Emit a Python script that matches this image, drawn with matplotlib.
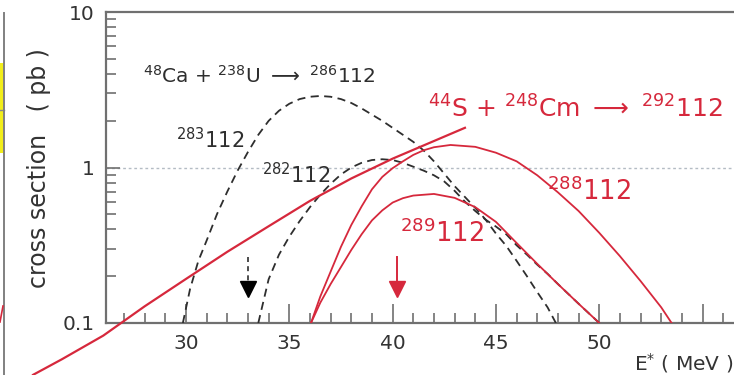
import numpy as np
import matplotlib
matplotlib.use("Agg")
import matplotlib.pyplot as plt
from matplotlib.lines import Line2D
from matplotlib.patches import Rectangle
from matplotlib.ticker import FixedLocator, NullFormatter

# ---------------- data ----------------
# excitation-energy "line" (red, solid, straight-ish)
line_E = [22.6, 24, 26, 28, 30, 32, 34, 36, 38, 40, 42, 43.5]
line_sigma = [0.0464, 0.0585, 0.083, 0.128, 0.192, 0.287, 0.419, 0.610, 0.850, 1.14, 1.48, 1.80]

# 48Ca + 238U -> 283112 (black dashed)
e283 = [29.85, 30.2, 30.6, 31, 31.5, 32, 32.5, 33, 33.5, 34, 34.5, 35, 35.5, 36, 36.5, 37,
        37.5, 38, 38.5, 39, 39.5, 40, 40.5, 41, 41.5, 42, 42.5, 43, 43.5, 44, 44.5, 45,
        45.5, 46, 46.5, 47, 47.5, 47.9]
s283 = [0.1, 0.166, 0.251, 0.339, 0.501, 0.700, 0.955, 1.259, 1.622, 1.995, 2.317, 2.570,
        2.754, 2.851, 2.884, 2.851, 2.754, 2.600, 2.399, 2.188, 1.995, 1.799, 1.622, 1.462,
        1.288, 1.096, 0.912, 0.759, 0.646, 0.550, 0.462, 0.376, 0.313, 0.251, 0.200, 0.158,
        0.126, 0.1]

# 48Ca + 238U -> 282112 (black dashed)
e282 = [33.5, 34, 34.5, 35, 35.5, 36, 36.5, 37, 37.5, 38, 38.5, 39, 39.5, 40, 40.5, 41,
        41.5, 42, 42.5, 43, 43.5, 44, 44.5, 45, 45.5, 46, 46.5, 47, 47.5, 48, 49, 50]
s282 = [0.1, 0.191, 0.275, 0.359, 0.452, 0.556, 0.668, 0.785, 0.902, 1.0, 1.072, 1.117,
        1.130, 1.117, 1.072, 1.012, 0.955, 0.891, 0.813, 0.708, 0.603, 0.525, 0.462, 0.417,
        0.372, 0.316, 0.275, 0.237, 0.207, 0.178, 0.133, 0.1]

# 44S + 248Cm -> 288112 (red solid)
e288 = [36.05, 36.5, 37, 37.5, 38, 38.5, 39, 39.5, 40, 40.5, 41, 41.5, 42, 42.8, 44, 45,
        46, 47, 48, 49, 50, 51, 52, 53, 53.5]
s288 = [0.1, 0.148, 0.214, 0.309, 0.427, 0.562, 0.724, 0.870, 0.990, 1.096, 1.205, 1.290,
        1.350, 1.396, 1.358, 1.245, 1.096, 0.891, 0.692, 0.525, 0.380, 0.269, 0.186, 0.126, 0.1]

# 44S + 248Cm -> 289112 (red solid)
e289 = [36.05, 36.5, 37, 37.5, 38, 38.5, 39, 39.5, 40, 40.5, 41, 42, 43, 44, 45, 46, 47,
        48, 49, 50]
s289 = [0.1, 0.135, 0.178, 0.229, 0.295, 0.372, 0.457, 0.530, 0.595, 0.635, 0.660, 0.676,
        0.638, 0.556, 0.447, 0.327, 0.240, 0.178, 0.133, 0.1]

# downward arrows (E position, top, tip)
arrow_E = [33.0, 40.2]
arrow_top = [0.266, 0.267]
arrow_tip = [0.151, 0.151]

xticks_major = [30, 35, 40, 45, 50, 55]
xtick_labels = ["30", "35", "40", "45", "50", ""]
yticks_major = [0.1, 1, 10]
ytick_labels = ["0.1", "1", "10"]

# ---------------- style ----------------
plt.rcParams['font.family'] = ['DejaVu Sans']
plt.rcParams['mathtext.fontset'] = 'dejavusans'

RED = '#d6283c'
DARK = '#2e2e2e'
SPINE = '#707070'
TXT = '#333333'

W, H = 734, 375
fig = plt.figure(figsize=(W / 100, H / 100), dpi=100)
x0, x1, ytop, ybot = 106, 734, 12, 323
ax = fig.add_axes([x0 / W, (H - ybot) / H, (x1 - x0) / W, (ybot - ytop) / H])

ax.set_yscale('log')
ax.set_xlim(26.13, 56.52)
ax.set_ylim(0.1, 10)

# gridline at 1
ax.axhline(1, color='#b4bcc4', lw=1.0, ls=(0, (2, 2)), zorder=1)

# curves
ax.plot(line_E, line_sigma, color=RED, lw=1.6, clip_on=False, zorder=4)
ax.plot(e283, s283, color=DARK, lw=1.3, ls=(0, (4.5, 3)), zorder=3)
ax.plot(e282, s282, color=DARK, lw=1.3, ls=(0, (4.5, 3)), zorder=3)
ax.plot(e288, s288, color=RED, lw=1.3, zorder=4)
ax.plot(e289, s289, color=RED, lw=1.3, zorder=4)

# arrows
ax.plot([arrow_E[0], arrow_E[0]], [arrow_top[0], arrow_tip[0] * 1.12], color=DARK, lw=1.2,
        ls=(0, (3, 2.5)), zorder=5)
ax.plot([arrow_E[0]], [arrow_tip[0] * 1.1], marker='v', ms=11, color='black', zorder=5)
ax.plot([arrow_E[1], arrow_E[1]], [arrow_top[1], arrow_tip[1] * 1.12], color=RED, lw=1.4,
        zorder=5)
ax.plot([arrow_E[1]], [arrow_tip[1] * 1.1], marker='v', ms=11, color=RED, zorder=5)

# ticks
ax.xaxis.set_major_locator(FixedLocator(xticks_major))
ax.set_xticklabels(xtick_labels)
ax.xaxis.set_minor_locator(FixedLocator(np.arange(27, 57, 1)))
ax.yaxis.set_major_locator(FixedLocator(yticks_major))
ax.set_yticklabels(ytick_labels)
ax.yaxis.set_minor_locator(FixedLocator([k * d for d in (0.1, 1) for k in range(2, 10)]))
ax.yaxis.set_minor_formatter(NullFormatter())
ax.tick_params(axis='both', which='major', direction='in', length=14, width=1.2,
               color=SPINE, labelcolor=TXT, labelsize=14.5, pad=8)
ax.tick_params(axis='both', which='minor', direction='in', length=7, width=1.2, color=SPINE)
ax.tick_params(axis='y', which='major', length=10)

for side in ('left', 'top', 'bottom'):
    ax.spines[side].set_color(SPINE)
    ax.spines[side].set_linewidth(1.6)
ax.spines['right'].set_visible(False)

# annotations
ax.text(27.92, 3.49, r"$^{48}$Ca + $^{238}$U $\longrightarrow$ $^{286}$112",
        fontsize=14.5, color=DARK, ha='left', va='baseline')
ax.text(41.72, 2.08, r"$^{44}$S + $^{248}$Cm $\longrightarrow$ $^{292}$112",
        fontsize=18, color=RED, ha='left', va='baseline')
ax.text(29.52, 1.33, r"$^{283}$112", fontsize=15, color=DARK, ha='left', va='baseline')
ax.text(33.68, 0.794, r"$^{282}$112", fontsize=15, color=DARK, ha='left', va='baseline')
ax.text(47.48, 0.618, r"$^{288}$112", fontsize=18.5, color=RED, ha='left', va='baseline')
ax.text(40.36, 0.332, r"$^{289}$112", fontsize=18.5, color=RED, ha='left', va='baseline')

# axis labels
fig.text(39 / W, 1 - 168 / H, "cross section   ( pb )", rotation=90, fontsize=17,
         color=TXT, ha='center', va='center')
fig.text(733 / W, (H - 370) / H, r"E$^{*}$ ( MeV )", fontsize=14.5, color=TXT,
         ha='right', va='baseline')

# fragment of the neighbouring panel on the far left
fig.add_artist(Rectangle((0, 1 - 153 / H), 3.5 / W, 90 / H, transform=fig.transFigure,
                         facecolor='#f2ee1a', edgecolor='none'))
fig.add_artist(Line2D([0, 4 / W], [1 - 110 / H, 1 - 110 / H], transform=fig.transFigure,
                      color='#888888', lw=1))
fig.add_artist(Line2D([4 / W, 4 / W], [0, 1 - 13 / H], transform=fig.transFigure,
                      color='#808080', lw=1.4))
fig.add_artist(Line2D([0, 3 / W], [1 - 322 / H, 1 - 306 / H], transform=fig.transFigure,
                      color=RED, lw=1.2))

fig.savefig("out.png", dpi=100)
